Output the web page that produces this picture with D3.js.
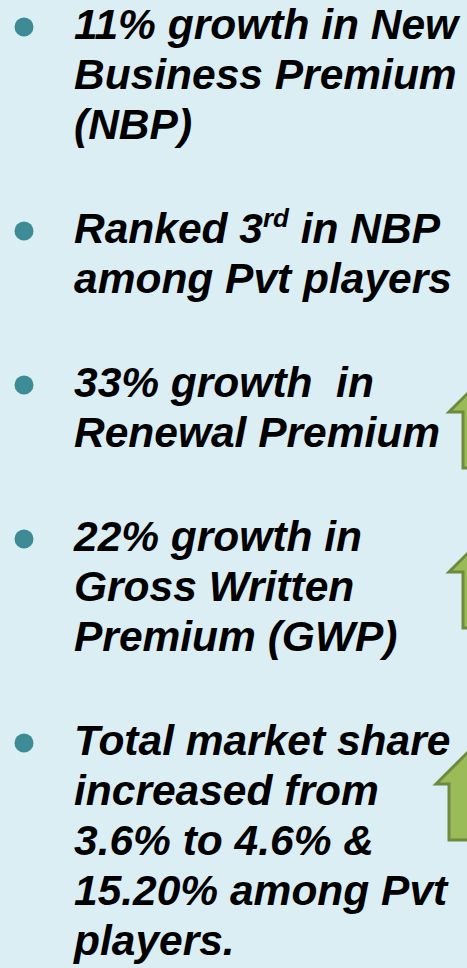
<!DOCTYPE html>
<meta charset="utf-8">
<style>
body { margin:0; background:#dbeef4; }
svg { display:block; }
.line { font-family: "Liberation Sans", Arial, sans-serif; font-weight:bold; font-style:italic; fill:#000; white-space:pre; }
</style>
<body>
<svg width="467" height="968" id="vis"></svg>
</body>
<script src="https://d3js.org/d3.v7.min.js"></script>
<script>
// bullet points, one array of lines per bullet ("^" marks superscript)
var bullets = [
  ["11% growth in New", "Business Premium", "(NBP)"],
  ["Ranked 3^rd^ in NBP", "among Pvt players"],
  ["33% growth  in", "Renewal Premium"],
  ["22% growth in", "Gross Written", "Premium (GWP)"],
  ["Total market share", "increased from", "3.6% to 4.6% &", "15.20% among Pvt", "players."]
];
// up arrows next to bullets 3-5: head base and shaft bottom
var arrows = [
  {item: 2, left: 463, head: 412, bottom: 468, shaft: 28, over: 14},
  {item: 3, left: 463, head: 572, bottom: 628, shaft: 28, over: 14},
  {item: 4, left: 449, head: 784, bottom: 840, shaft: 40, over: 13}
];

var svg = d3.select("svg"),
    fontSize = 42.5,
    lineH = 50,
    gap = 104,
    textX = 74,
    bulletX = 24;

// running line positions
var rows = [], y0 = 39;
bullets.forEach(function(lines, i) {
  lines.forEach(function(t, j) {
    rows.push({item: i, line: j, text: t, y: y0 + j * lineH});
  });
  y0 += (lines.length - 1) * lineH + gap;
});

var g = svg.append("g");

g.selectAll("circle.bullet")
  .data(rows.filter(function(d){ return d.line == 0; }))
  .enter().append("circle")
  .attr("class", "bullet")
  .attr("cx", bulletX)
  .attr("cy", function(d){ return d.y - 12; })
  .attr("r", 9.5)
  .attr("fill", "#3d8b94");

var txt = g.selectAll("text.line").data(rows).enter().append("text")
  .attr("class", "line")
  .attr("x", textX)
  .attr("y", function(d){ return d.y; })
  .style("font-size", fontSize + "px");

txt.each(function(d) {
  var parts = d.text.split("^"), el = d3.select(this);
  parts.forEach(function(p, k) {
    var ts = el.append("tspan").text(p);
    if (k % 2 == 1) ts.attr("dy", -16).style("font-size", "26px");
    else if (k > 0) ts.attr("dy", 16);
  });
});

// arrows
var arrowPath = function(a) {
  var left = a.left;
  var cx = left + a.shaft / 2, hw = a.shaft / 2 + a.over;
  var p = d3.path();
  p.moveTo(left, a.bottom);
  p.lineTo(left, a.head);
  p.lineTo(cx - hw, a.head);
  p.lineTo(cx, a.head - hw);
  p.lineTo(cx + hw, a.head);
  p.lineTo(left + a.shaft, a.head);
  p.lineTo(left + a.shaft, a.bottom);
  p.closePath();
  return p.toString();
};

g.selectAll("path.arrow").data(arrows).enter().append("path")
  .attr("class", "arrow")
  .attr("d", arrowPath)
  .attr("fill", "#9bbb59")
  .attr("stroke", "#71893f")
  .attr("stroke-width", 3)
  .attr("stroke-linejoin", "miter");
</script>
